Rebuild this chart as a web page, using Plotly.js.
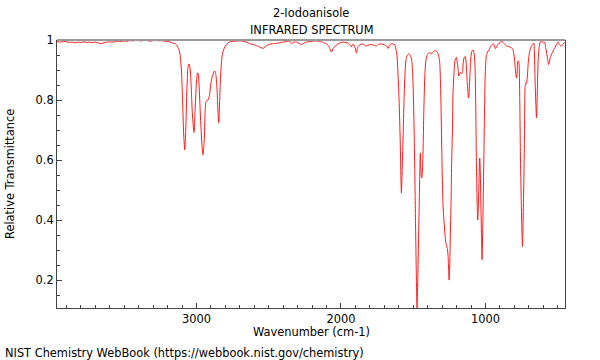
<!DOCTYPE html>
<html>
<head>
<meta charset="utf-8">
<script src="https://cdn.plot.ly/plotly-3.0.1.min.js"></script>
<style>
html,body{margin:0;padding:0;background:#fff;}
#chart{width:600px;height:360px;}
</style>
</head>
<body>
<div id="chart"></div>
<script>
var chartTitle = "2-Iodoanisole";
var chartSubtitle = "INFRARED SPECTRUM";
var xTitle = "Wavenumber (cm-1)";
var yTitle = "Relative Transmittance";
var footer = "NIST Chemistry WebBook (https://webbook.nist.gov/chemistry)";

var wavenumber = [
3965,3940,3920,3900,3880,3860,3840,3820,3800,3780,3760,3740,3720,3700,3680,3660,3640,3620,3600,3580,
3560,3540,3520,3500,3480,3460,3440,3420,3400,3380,3360,3340,3320,3300,3280,3260,3240,3220,3200,3185,
3165,3150,3139,3128,3116,3104,3095,3088,3081,3074,3066,3058,3051,3044,3036,3028,3017,3008,3000,2993,
2989,2982,2972,2962,2955,2947,2940,2934,2920,2910,2903,2892,2880,2874,2866,2858,2852,2846,2840,2832,
2820,2804,2782,2770,2740,2700,2678,2650,2631,2600,2570,2539,2515,2493,2460,2424,2390,2370,2355,2343,
2325,2308,2290,2274,2255,2239,2200,2170,2140,2115,2101,2080,2066,2050,2031,2010,1986,1965,1951,1935,
1928,1920,1912,1900,1893,1885,1875,1860,1847,1835,1824,1805,1789,1770,1755,1738,1720,1700,1685,1674,
1665,1651,1640,1628,1618,1612,1605,1598,1590,1582,1576,1571,1565,1559,1550,1543,1531,1522,1512,1505,
1500,1494,1490,1484,1478,1474,1468,1463,1460,1456,1451,1448,1444,1441,1436,1432,1427,1420,1413,1405,
1397,1388,1380,1370,1360,1351,1343,1335,1325,1317,1311,1305,1300,1294,1289,1282,1276,1270,1264,1259,
1255,1252,1248,1243,1238,1234,1229,1225,1218,1212,1206,1201,1197,1190,1185,1180,1174,1166,1160,1153,
1146,1140,1134,1128,1122,1118,1113,1109,1103,1097,1090,1084,1078,1073,1068,1063,1058,1054,1050,1045,
1040,1036,1032,1028,1024,1019,1012,1007,1003,997,993,985,975,965,959,948,940,931,922,913,
900,890,880,874,865,855,840,820,809,803,797,791,786,781,777,772,768,763,758,752,
748,744,740,735,730,726,721,717,714,710,705,700,694,685,675,666,662,657,652,647,
642,636,630,624,618,611,604,597,590,584,578,571,564,557,550,541,532,523,514,505,
498,492,486,480,474,466,458,450
];

var transmittance = [
0.995,0.993,0.995,0.994,0.992,0.993,0.991,0.993,0.992,0.994,0.992,0.993,0.991,0.993,0.990,0.988,0.991,0.993,0.994,0.993,
0.995,0.996,0.995,0.997,0.996,0.998,0.997,0.999,0.998,0.997,0.999,0.998,0.996,0.998,0.999,0.997,0.998,0.996,0.995,0.994,
0.990,0.988,0.984,0.975,0.960,0.900,0.780,0.680,0.634,0.700,0.840,0.910,0.920,0.905,0.840,0.750,0.692,0.780,0.860,0.890,
0.890,0.850,0.740,0.650,0.617,0.660,0.760,0.795,0.800,0.815,0.847,0.875,0.893,0.897,0.885,0.840,0.770,0.724,0.790,0.893,
0.955,0.977,0.990,0.994,0.996,0.997,0.996,0.992,0.988,0.984,0.978,0.972,0.981,0.986,0.988,0.991,0.994,0.996,0.996,0.988,
0.993,0.993,0.989,0.985,0.990,0.993,0.996,0.997,0.994,0.990,0.988,0.975,0.960,0.975,0.983,0.990,0.993,0.991,0.990,0.982,
0.977,0.985,0.985,0.970,0.957,0.975,0.982,0.986,0.987,0.982,0.980,0.984,0.985,0.982,0.980,0.986,0.987,0.984,0.980,0.972,
0.982,0.988,0.987,0.985,0.965,0.945,0.880,0.800,0.660,0.490,0.580,0.660,0.780,0.868,0.935,0.948,0.955,0.950,0.937,0.900,
0.830,0.700,0.580,0.380,0.200,0.107,0.220,0.350,0.420,0.530,0.623,0.580,0.545,0.540,0.570,0.634,0.760,0.880,0.930,0.948,
0.955,0.958,0.956,0.955,0.962,0.965,0.963,0.960,0.950,0.925,0.850,0.700,0.560,0.450,0.410,0.360,0.330,0.315,0.305,0.280,
0.230,0.200,0.240,0.360,0.470,0.600,0.700,0.820,0.890,0.930,0.940,0.942,0.930,0.905,0.880,0.885,0.892,0.888,0.892,0.930,
0.943,0.945,0.925,0.870,0.830,0.807,0.830,0.870,0.930,0.958,0.966,0.966,0.950,0.920,0.800,0.590,0.460,0.400,0.440,0.530,
0.607,0.560,0.450,0.350,0.268,0.380,0.590,0.760,0.870,0.935,0.951,0.960,0.968,0.978,0.981,0.988,0.983,0.971,0.978,0.986,
0.992,0.995,0.993,0.990,0.985,0.980,0.978,0.974,0.967,0.950,0.922,0.890,0.873,0.890,0.929,0.930,0.920,0.800,0.600,0.450,
0.360,0.312,0.400,0.520,0.700,0.845,0.857,0.855,0.860,0.880,0.920,0.945,0.963,0.978,0.985,0.990,0.960,0.870,0.790,0.740,
0.820,0.930,0.970,0.990,0.996,0.998,0.993,0.990,0.992,0.975,0.960,0.940,0.918,0.930,0.945,0.955,0.963,0.972,0.980,0.988,
0.994,0.988,0.983,0.980,0.980,0.985,0.990,0.992
];

var xRange = [3965, 450];
var yRange = [0.107, 1.0];

var fnt = {family: "DejaVu Sans, sans-serif", size: 11.4, color: "#000"};

var trace = {
  x: wavenumber,
  y: transmittance,
  type: "scatter",
  mode: "lines",
  line: {color: "#ff1a1a", width: 1, shape: "spline", smoothing: 0.6},
  hoverinfo: "skip"
};

var layout = {
  width: 600, height: 360,
  margin: {l: 57, r: 35, t: 40, b: 52},
  paper_bgcolor: "#fff", plot_bgcolor: "#fff",
  showlegend: false,
  font: fnt,
  xaxis: {
    range: xRange, autorange: false,
    showgrid: false, zeroline: false,
    showline: true, linecolor: "#444", linewidth: 1,
    ticks: "inside", ticklen: 5, tickcolor: "#444", tickwidth: 1,
    tick0: 0, dtick: 1000,
    tickfont: fnt,
    minor: {dtick: 100, tick0: 0, ticks: "inside", ticklen: 3, tickcolor: "#444", tickwidth: 1, showgrid: false}
  },
  yaxis: {
    range: yRange, autorange: false,
    showgrid: false, zeroline: false,
    showline: true, linecolor: "#444", linewidth: 1, mirror: true,
    ticks: "inside", ticklen: 5, tickcolor: "#444", tickwidth: 1,
    tick0: 0, dtick: 0.2,
    tickfont: fnt,
    minor: {dtick: 0.05, tick0: 0, ticks: "inside", ticklen: 3, tickcolor: "#444", tickwidth: 1, showgrid: false}
  },
  shapes: [
    {type: "line", xref: "paper", yref: "paper", x0: 0, x1: 1, y0: 1, y1: 1,
     line: {color: "#999", width: 2}}
  ],
  annotations: [
    {text: chartTitle, xref: "paper", yref: "paper", x: 0.5, y: 1.1007, xanchor: "center", yanchor: "middle", showarrow: false, font: fnt},
    {text: chartSubtitle, xref: "paper", yref: "paper", x: 0.5, y: 1.0373, xanchor: "center", yanchor: "middle", showarrow: false, font: fnt},
    {text: xTitle, xref: "paper", yref: "paper", x: 0.5, y: -0.0896, xanchor: "center", yanchor: "middle", showarrow: false, font: fnt},
    {text: yTitle, xref: "paper", yref: "paper", x: -0.0925, y: 0.5, xanchor: "center", yanchor: "middle", textangle: -90, showarrow: false, font: fnt},
    {text: footer, xref: "paper", yref: "paper", x: -0.1063, y: -0.168, xanchor: "left", yanchor: "middle", showarrow: false, font: fnt}
  ]
};

Plotly.newPlot("chart", [trace], layout, {staticPlot: true, displayModeBar: false});
</script>
</body>
</html>
